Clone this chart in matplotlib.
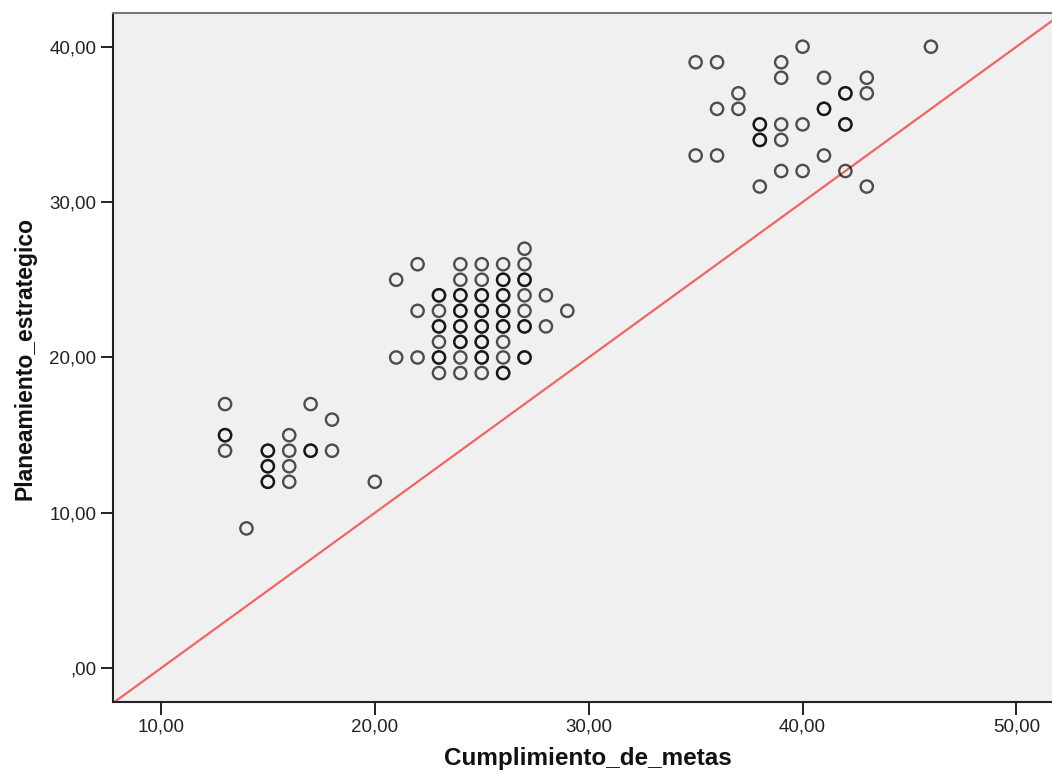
import matplotlib
matplotlib.use("Agg")
import matplotlib.pyplot as plt
import numpy as np

# points (repeats = overlapping cases, drawn darker)
cumplimiento = [
    13, 17, 18, 13, 13, 16, 13, 15, 15, 16, 17, 17, 18, 15, 15, 16, 15, 15, 16, 20, 14,
    27,
    22, 24, 25, 26, 27,
    21, 24, 25, 26, 26, 27, 27,
    23, 23, 24, 24, 25, 25, 26, 26, 27, 28,
    22, 23, 24, 24, 25, 25, 26, 26, 27, 29,
    23, 23, 24, 24, 25, 25, 26, 26, 27, 27, 28,
    23, 24, 24, 25, 25, 26,
    21, 22, 23, 23, 24, 25, 25, 26, 27, 27,
    23, 24, 25, 26, 26,
    40, 46, 35, 36, 39, 39, 41, 43, 37, 42, 42, 43, 36, 37, 41, 41,
    38, 38, 39, 40, 42, 42, 38, 38, 39, 35, 36, 41, 39, 40, 42, 38, 43,
]
planeamiento = [
    17, 17, 16, 15, 15, 15, 14, 14, 14, 14, 14, 14, 14, 13, 13, 13, 12, 12, 12, 12, 9,
    27,
    26, 26, 26, 26, 26,
    25, 25, 25, 25, 25, 25, 25,
    24, 24, 24, 24, 24, 24, 24, 24, 24, 24,
    23, 23, 23, 23, 23, 23, 23, 23, 23, 23,
    22, 22, 22, 22, 22, 22, 22, 22, 22, 22, 22,
    21, 21, 21, 21, 21, 21,
    20, 20, 20, 20, 20, 20, 20, 20, 20, 20,
    19, 19, 19, 19, 19,
    40, 40, 39, 39, 39, 38, 38, 38, 37, 37, 37, 37, 36, 36, 36, 36,
    35, 35, 35, 35, 35, 35, 34, 34, 34, 33, 33, 33, 32, 32, 32, 31, 31,
]

# reference line
line_intercept = -10.0
line_slope = 1.0

xticks = [10, 20, 30, 40, 50]
xticklabels = ["10,00", "20,00", "30,00", "40,00", "50,00"]
yticks = [0, 10, 20, 30, 40]
yticklabels = [",00", "10,00", "20,00", "30,00", "40,00"]

plt.rcParams["font.family"] = ["Liberation Sans", "DejaVu Sans"]

W, H = 1052, 772
fig = plt.figure(figsize=(W / 100, H / 100), dpi=100)
ax = fig.add_axes([0.1074, 0.0903, 0.8926, 0.8929])
ax.set_facecolor("#f0f0f0")

ax.scatter(cumplimiento, planeamiento, s=78, facecolors="none",
           edgecolors="black", linewidths=1.7, alpha=0.68, zorder=3)
ax.axline((0, line_intercept), slope=line_slope, color="#f06464",
          linewidth=1.6, zorder=2)

ax.set_xlim(7.76, 51.66)
ax.set_ylim(-2.19, 42.17)
ax.set_xticks(xticks)
ax.set_xticklabels(xticklabels)
ax.set_yticks(yticks)
ax.set_yticklabels(yticklabels)
ax.tick_params(direction="out", length=9, width=1.4, labelsize=13.5,
               labelcolor="#222222", color="#222222", pad=3)

ax.spines["left"].set_linewidth(1.5)
ax.spines["bottom"].set_linewidth(1.5)
ax.spines["left"].set_color("#222222")
ax.spines["bottom"].set_color("#222222")
ax.spines["top"].set_color("#777777")
ax.spines["top"].set_linewidth(1.5)
ax.spines["right"].set_visible(False)

fig.text(588 / W, 1 - 765 / H, "Cumplimiento_de_metas", fontsize=17.5,
         fontweight="bold", ha="center", va="baseline", color="#111111")
fig.text(25 / W, 1 - 358 / H, "Planeamiento_estrategico", fontsize=16.5,
         fontweight="bold", ha="center", va="center", rotation=90, color="#111111")

fig.savefig("out.png", dpi=100)
